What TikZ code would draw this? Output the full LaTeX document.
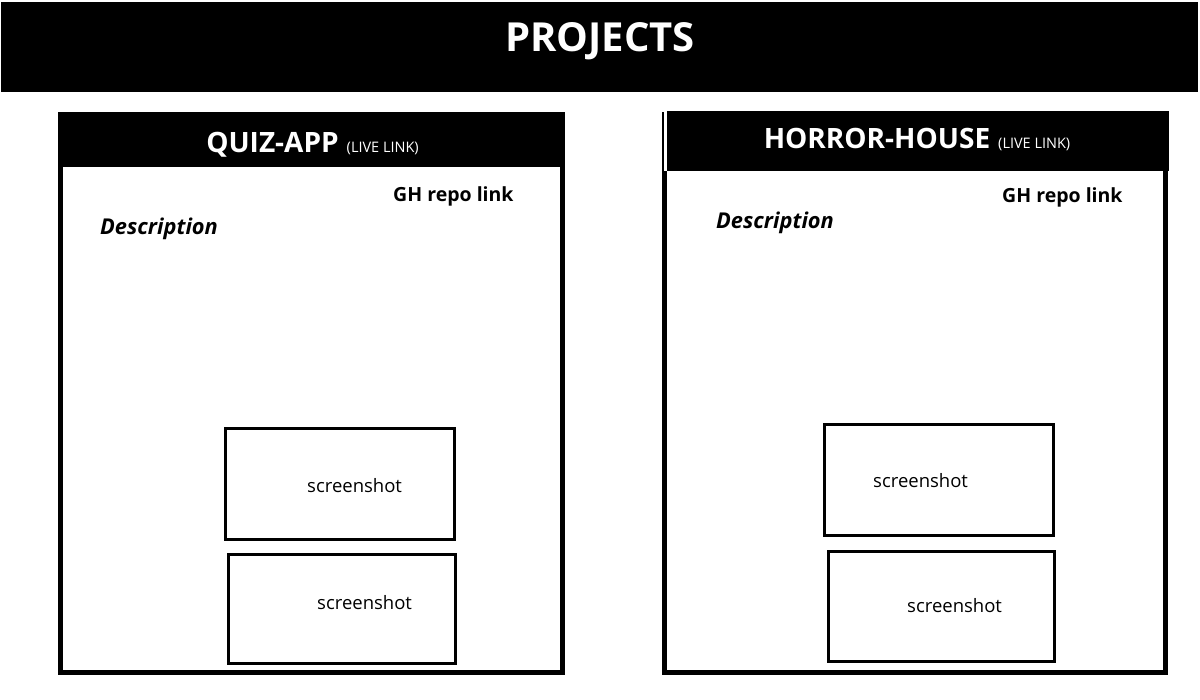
\documentclass[tikz,border=0pt]{standalone}
\usepackage{fontspec}
\setmainfont{Open Sans}
\begin{document}
\begin{tikzpicture}[x=1pt,y=-1pt,
  topbar/.style={rectangle, fill=black, inner sep=0pt},
  frame/.style={rectangle, draw=black, line width=5pt, fill=white, inner sep=0pt},
  band/.style={rectangle, fill=black, inner sep=0pt},
  shotbox/.style={rectangle, draw=black, line width=3.4pt, inner sep=0pt},
  pagetitle/.style={anchor=base, inner sep=0pt, text=white,
    font=\fontsize{40}{48}\selectfont\bfseries},
  boxtitle/.style={anchor=base, inner sep=0pt, text=white},
  repolink/.style={anchor=base west, inner sep=0pt,
    font=\fontsize{19.5}{23}\selectfont\bfseries},
  desc/.style={anchor=base west, inner sep=0pt,
    font=\fontsize{21.8}{26}\selectfont\bfseries\itshape},
  shottext/.style={anchor=base west, inner sep=0pt,
    font=\fontsize{18.5}{22}\selectfont},
]
\useasboundingbox (0,0) rectangle (1200,700);
\fill[white] (0,0) rectangle (1200,700);

% page header
\node[topbar, minimum width=1197pt, minimum height=90pt] (header) at (599.5,47) {};
\node[pagetitle] (projects) at (600,52) {PROJECTS};

% left project card
\node[frame, minimum width=502pt, minimum height=558pt] (quiz) at (311.5,393.5) {};
\node[band, minimum width=507pt, minimum height=55pt] (quizband) at (311.5,139.5) {};
\node[boxtitle] (quiztitle) at (312.5,153)
  {{\fontsize{28}{32}\selectfont\bfseries QUIZ-APP}\hspace{8pt}{\fontsize{14.5}{17}\selectfont(LIVE LINK)}};
\node[repolink] (quizrepo) at (393,202) {GH repo link};
\node[desc] (quizdesc) at (100,235) {Description};
\node[shotbox, minimum width=228.6pt, minimum height=110.6pt] (quizshotA) at (340,484) {};
\node[shottext] (quizshotAtext) at (307,493) {screenshot};
\node[shotbox, minimum width=226.6pt, minimum height=108.6pt] (quizshotB) at (342,609) {};
\node[shottext] (quizshotBtext) at (317,609) {screenshot};

% right project card
\node[frame, minimum width=501pt, minimum height=558pt] (horror) at (915,393.5) {};
\node[band, minimum width=502.5pt, minimum height=60pt] (horrorband) at (917.75,141.5) {};
\fill[white] (663.6,112) rectangle (666.5,171);
\node[boxtitle] (horrortitle) at (917,149)
  {{\fontsize{28}{32}\selectfont\bfseries HORROR-HOUSE}\hspace{8pt}{\fontsize{14.5}{17}\selectfont(LIVE LINK)}};
\node[repolink] (horrorrepo) at (1002,203) {GH repo link};
\node[desc] (horrordesc) at (716,229) {Description};
\node[shotbox, minimum width=228.6pt, minimum height=110.6pt] (horrorshotA) at (939,480) {};
\node[shottext] (horrorshotAtext) at (873,487) {screenshot};
\node[shotbox, minimum width=225.6pt, minimum height=109.6pt] (horrorshotB) at (941.5,606.5) {};
\node[shottext] (horrorshotBtext) at (907,612) {screenshot};
\end{tikzpicture}
\end{document}
